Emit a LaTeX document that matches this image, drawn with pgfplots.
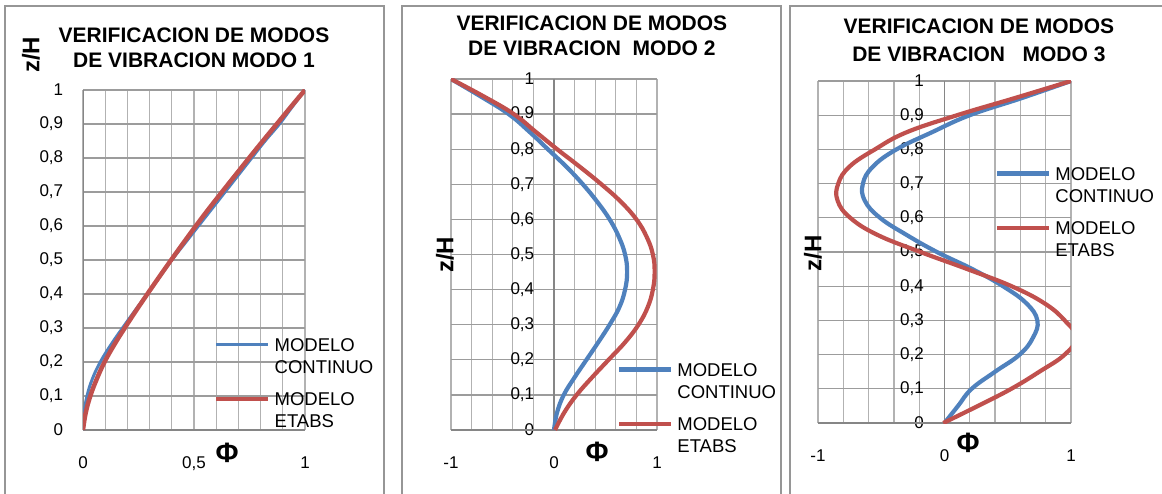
\documentclass[border=0pt]{standalone}
\usepackage{fontspec}
\setmainfont{Liberation Sans}
\usepackage{pgfplots}
\pgfplotsset{compat=1.18}

\definecolor{exblue}{HTML}{4F81BD}
\definecolor{exred}{HTML}{C0504D}
\definecolor{vgrid}{HTML}{B2B2B2}
\definecolor{hgrid}{HTML}{9C9C9C}
\definecolor{axgray}{HTML}{868686}
\definecolor{panelframe}{HTML}{969696}

\pgfplotsset{
  modo/.style={
    scale only axis,
    ymin=0, ymax=1,
    ytick={0,0.1,0.2,0.3,0.4,0.5,0.6,0.7,0.8,0.9,1},
    xmajorgrids, xminorgrids, ymajorgrids,
    minor x tick num=4,
    major tick length=0pt, minor tick length=0pt,
    axis line style={draw=none},
    major x grid style={vgrid, line width=1.3pt},
    minor x grid style={vgrid, line width=1.3pt},
    major y grid style={hgrid, line width=1.3pt},
    /pgf/number format/assume math mode=true,
    /pgf/number format/use comma,
    tick label style={font=\fontsize{17}{20}\selectfont},
    xticklabel style={yshift=-23pt},
    title style={font=\fontsize{21}{25}\selectfont\bfseries, align=center, anchor=center},
    ylabel style={font=\fontsize{24}{28}\selectfont\bfseries, anchor=center},
    xlabel style={font=\fontsize{28}{32}\selectfont\bfseries, anchor=center},
    legend cell align=left,
    legend style={draw=none, fill=none, anchor=north west, inner sep=0pt,
      font=\fontsize{18.5}{22}\selectfont, cells={align=left},
      row sep=14pt, /tikz/every odd column/.style={column sep=2pt}},
    legend image code/.code={\draw[##1] (0pt,12pt) -- (52pt,12pt);},
  },
  curva/.style={smooth, tension=0.7, no markers},
}

\begin{document}
\begin{tikzpicture}[x=1pt,y=1pt]
\useasboundingbox (0,0) rectangle (1162,493);
% marcos de los tres graficos
\draw[panelframe, line width=2.5pt] (5,-10) -- (5,487) -- (384,487) -- (384,-10);
\draw[panelframe, line width=2.5pt] (402,-10) -- (402,487) -- (781,487) -- (781,-10);
\draw[panelframe, line width=2.5pt] (790,-10) -- (790,487) -- (1175,487);

% ---------- MODO 1 ----------
\begin{axis}[modo,
  at={(83pt,63pt)}, anchor=south west,
  width=222pt, height=340pt,
  xmin=0, xmax=1, xtick={0,0.5,1},
  yticklabel style={xshift=-16.3pt},
  title={VERIFICACION DE MODOS\\DE VIBRACION MODO 1},
  title style={at={(rel axis cs:0.5,1.106)}},
  ylabel={z/H}, ylabel style={at={(rel axis cs:-0.235,1.103)}},
  xlabel={Φ}, xlabel style={at={(rel axis cs:0.649,-0.068)}},
  legend style={at={(rel axis cs:0.59,0.276)}},
]
\draw[axgray, line width=1.5pt] (axis cs:0,0) -- (axis cs:1,0);
\draw[axgray, line width=1.5pt] (axis cs:0,0) -- (axis cs:0,1);
\addplot[curva, exblue, line width=3pt] coordinates {
  (0,0) (0.005,0.05) (0.018,0.1) (0.042,0.15) (0.078,0.2) (0.125,0.25)
  (0.178,0.3) (0.233,0.35) (0.29,0.4) (0.345,0.45) (0.40,0.5) (0.46,0.55)
  (0.52,0.6) (0.58,0.65) (0.64,0.7) (0.70,0.75) (0.76,0.8) (0.82,0.85)
  (0.885,0.9) (0.942,0.95) (1,1)};
\addlegendentry{MODELO\\CONTINUO}
\addplot[curva, exred, line width=4.5pt] coordinates {
  (0,0) (0.012,0.05) (0.033,0.1) (0.062,0.15) (0.097,0.2) (0.14,0.25)
  (0.188,0.3) (0.238,0.35) (0.29,0.4) (0.343,0.45) (0.397,0.5) (0.452,0.55)
  (0.508,0.6) (0.566,0.65) (0.626,0.7) (0.687,0.75) (0.748,0.8) (0.81,0.85)
  (0.873,0.9) (0.936,0.95) (1,1)};
\addlegendentry{MODELO\\ETABS}
\end{axis}

% ---------- MODO 2 ----------
\begin{axis}[modo,
  at={(451pt,63pt)}, anchor=south west,
  width=206pt, height=351pt,
  xmin=-1, xmax=1, xtick={-1,0,1},
  yticklabel style={xshift=86.7pt},
  title={VERIFICACION DE MODOS\\DE VIBRACION\ \ MODO 2},
  title style={at={(rel axis cs:0.684,1.1055)}},
  ylabel={z/H}, ylabel style={at={(rel axis cs:-0.029,0.4986)}},
  xlabel={Φ}, xlabel style={at={(rel axis cs:0.709,-0.063)}},
  legend style={at={(rel axis cs:0.806,0.1965)}},
]
\draw[axgray, line width=1.5pt] (axis cs:-1,0) -- (axis cs:1,0);
\draw[axgray, line width=1.5pt] (axis cs:0,0) -- (axis cs:0,1);
\addplot[curva, exblue, line width=4.2pt] coordinates {
  (0,0) (0.03,0.05) (0.095,0.1) (0.2,0.15) (0.315,0.2) (0.43,0.25)
  (0.54,0.3) (0.635,0.35) (0.69,0.4) (0.71,0.45) (0.69,0.5) (0.63,0.55)
  (0.54,0.6) (0.42,0.65) (0.28,0.7) (0.12,0.75) (-0.06,0.8) (-0.24,0.85)
  (-0.44,0.9) (-0.71,0.95) (-1,1)};
\addlegendentry{MODELO\\CONTINUO}
\addplot[curva, exred, line width=4.2pt] coordinates {
  (0.01,0) (0.1,0.05) (0.22,0.1) (0.37,0.15) (0.53,0.2) (0.69,0.25)
  (0.82,0.3) (0.91,0.35) (0.96,0.4) (0.977,0.45) (0.96,0.5) (0.9,0.55)
  (0.8,0.6) (0.65,0.65) (0.46,0.7) (0.25,0.75) (0.03,0.8) (-0.18,0.85)
  (-0.39,0.9) (-0.68,0.95) (-1,1)};
\addlegendentry{MODELO\\ETABS}
\end{axis}

% ---------- MODO 3 ----------
\begin{axis}[modo,
  at={(818pt,70pt)}, anchor=south west,
  width=253pt, height=342pt,
  xmin=-1, xmax=1, xtick={-1,0,1},
  yticklabel style={xshift=109.4pt},
  title={VERIFICACION DE MODOS\\DE VIBRACION\ \ \ MODO 3},
  title style={at={(rel axis cs:0.636,1.101)}, font=\fontsize{21}{28}\selectfont\bfseries},
  ylabel={z/H}, ylabel style={at={(rel axis cs:-0.02,0.497)}},
  xlabel={Φ}, xlabel style={at={(rel axis cs:0.593,-0.058)}},
  legend style={at={(rel axis cs:0.6996,0.754)}},
]
\draw[axgray, line width=1.5pt] (axis cs:-1,0) -- (axis cs:1,0);
\draw[axgray, line width=1.5pt] (axis cs:0,0) -- (axis cs:0,1);
\addplot[curva, exblue, line width=4.2pt] coordinates {
  (0,0) (0.107,0.05) (0.215,0.1) (0.4,0.15) (0.594,0.2) (0.7,0.25)
  (0.734,0.3) (0.647,0.35) (0.462,0.4) (0.22,0.45) (-0.06,0.5) (-0.3,0.55)
  (-0.51,0.6) (-0.63,0.65) (-0.645,0.7) (-0.565,0.75) (-0.38,0.8) (-0.1,0.85)
  (0.2,0.9) (0.61,0.95) (1,1)};
\addlegendentry{MODELO\\CONTINUO}
\addplot[curva, exred, line width=4.2pt] coordinates {
  (-0.01,0) (0.265,0.05) (0.528,0.1) (0.75,0.15) (0.95,0.2) (1.04,0.25)
  (0.95,0.3) (0.79,0.35) (0.53,0.4) (0.18,0.45) (-0.19,0.5) (-0.53,0.55)
  (-0.745,0.6) (-0.845,0.65) (-0.84,0.7) (-0.75,0.75) (-0.55,0.8) (-0.3,0.85)
  (0.1,0.9) (0.555,0.95) (1,1)};
\addlegendentry{MODELO\\ETABS}
\end{axis}
\end{tikzpicture}
\end{document}
